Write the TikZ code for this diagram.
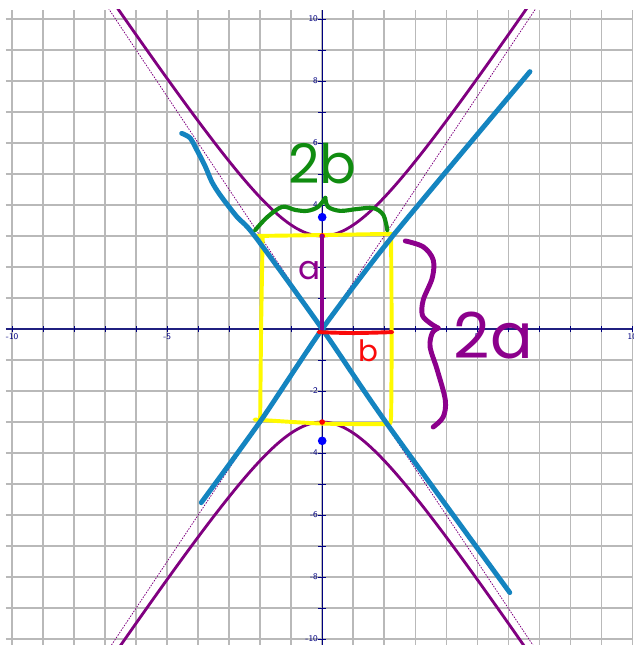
\documentclass[tikz,border=0pt]{standalone}
\usepackage{fontspec}
\newfontfamily\handfont{Poppins}
\usetikzlibrary{positioning, calc}
\usepackage{xcolor}
\definecolor{hypPurple}{RGB}{128,0,128}
\definecolor{penPurple}{RGB}{140,0,140}
\definecolor{penBlue}{RGB}{20,132,192}
\definecolor{penYellow}{RGB}{255,250,0}
\definecolor{penGreen}{RGB}{16,140,16}
\definecolor{penRed}{RGB}{250,10,10}
\definecolor{axisNavy}{RGB}{0,0,128}
\tikzset{
    % Grid & axes
    gridline/.style={gray!55, line width=1.3pt},
    axisline/.style={axisNavy, line width=0.7pt},
    xaxisline/.style={axisNavy!75!gray, line width=1.5pt},
    ticklbl/.style={font=\sffamily\fontsize{8}{8}\selectfont, text=axisNavy, inner sep=1pt},
    % Curves
    hyper/.style={hypPurple, line width=2.6pt},
    asym/.style={hypPurple, line width=0.7pt, dash pattern=on 1.4pt off 1.2pt},
    pen/.style={line width=4.2pt, line cap=round, line join=round},
    % Points
    vertexdot/.style={circle, fill=red, inner sep=0pt, minimum size=1.8mm},
    focusdot/.style={circle, fill=blue, inner sep=0pt, minimum size=2.8mm},
    % Labels
    hand/.style={font=\handfont\fontsize{#1}{#1}\selectfont, inner sep=0pt},
    hand/.default=30
}

\begin{document}
\begin{tikzpicture}

\useasboundingbox (-10.39,-10.19) rectangle (10.03,10.61);
\fill[white] (-10.39,-10.19) rectangle (10.03,10.61);

% grid and axes
\draw[gridline] (-10.2,-10.19) grid (10.03,10.3);
\draw[xaxisline] (-10.2,0) -- (10.03,0);
\draw[axisline] (0,-10.19) -- (0,10.3);
\foreach \i in {-10,...,10} {
    \draw[axisline] (\i,-0.1) -- (\i,0.1);
    \draw[axisline] (-0.12,\i) -- (0.12,\i);
}
\foreach \x [count=\k] in {-10,-5,5,10}
    \node[ticklbl, below] (xl\k) at (\x,-0.1) {\x};
\foreach \y [count=\k] in {-10,-8,-6,-4,-2,2,4,6,8,10}
    \node[ticklbl, left] (yl\k) at (-0.1,\y) {\y};

% hyperbola y^2/9 - x^2/4 = 1 with its asymptotes
\begin{scope}
    \clip (-10.2,-10.19) rectangle (10.03,10.3);
    \draw[asym] (-7.2,10.8) -- (7.2,-10.8);
    \draw[asym] (-7.2,-10.8) -- (7.2,10.8);
    \draw[hyper] plot[domain=-7.2:7.2, samples=150, smooth] (\x,{3*sqrt(1+\x*\x/4)});
    \draw[hyper] plot[domain=-7.2:7.2, samples=150, smooth] (\x,{-3*sqrt(1+\x*\x/4)});
\end{scope}

\coordinate (O) at (0,0);

% yellow box
\draw[pen, penYellow, line width=3.6pt] plot[smooth, tension=0.4] coordinates {(-2.2,3.0) (0,3.03) (2.25,3.07)};
\draw[pen, penYellow, line width=3.6pt] plot[smooth, tension=0.4] coordinates {(2.22,3.05) (2.24,0) (2.22,-2.85) (2.12,-3.05)};
\draw[pen, penYellow, line width=3.6pt] plot[smooth, tension=0.4] coordinates {(2.15,-3.07) (0,-3.05) (-2.18,-2.92)};
\draw[pen, penYellow, line width=3.6pt] plot[smooth, tension=0.4] coordinates {(-1.92,2.98) (-1.97,0) (-2.0,-2.95)};

% vertices and foci
\node[vertexdot] (v1) at (0,3) {};
\node[vertexdot] (v2) at (0,-3) {};
\node[focusdot] (f1) at (0,3.606) {};
\node[focusdot] (f2) at (0,-3.606) {};

% hand drawn asymptotes
\draw[pen, penBlue, line width=4.5pt] plot[smooth, tension=0.5] coordinates {(-4.53,6.31) (-4.26,6.16) (-4.04,5.77) (-3.77,5.24) (-3.56,4.75) (-3.29,4.32) (-2.75,3.62) (-2.16,2.98) (O) (2.05,-3.0) (6.05,-8.5)};
\draw[pen, penBlue, line width=4.5pt] plot[smooth, tension=0.4] coordinates {(-3.9,-5.6) (-1.97,-2.94) (O) (2.3,3.03) (6.7,8.3)};

% a and b
\draw[pen, penPurple, line width=3.8pt] (v1.center) -- (O);
\node[hand=30, text=penPurple] (lblA) at (-0.42,1.9) {a};
\draw[pen, penRed, line width=3.6pt] plot[smooth, tension=0.5] coordinates {(-0.12,-0.1) (1.0,-0.13) (2.26,-0.1)};
\node[hand=27, text=penRed] (lblB) at (1.48,-0.71) {b};

% brace for 2b
\coordinate (tip2b) at (0.1,4.23);
\draw[pen, penGreen, line width=3.8pt] plot[smooth, tension=0.55] coordinates {(-2.16,3.19) (-1.77,3.61) (-1.29,3.94) (-0.87,3.84) (-0.48,3.81) (-0.13,3.94) (tip2b)};
\draw[pen, penGreen, line width=3.8pt] plot[smooth, tension=0.55] coordinates {(tip2b) (0.19,3.94) (0.58,3.81) (1.13,3.87) (1.65,3.9) (1.97,3.68) (2.1,3.19)};
\node[hand=50, text=penGreen, above=0.45cm of tip2b, xshift=-0.1cm] (lbl2b) {2b};

% brace for 2a
\coordinate (tip2a) at (3.74,0.03);
\draw[pen, penPurple, line width=4.5pt] plot[smooth, tension=0.55] coordinates {(2.68,2.84) (3.26,2.65) (3.58,2.23) (3.55,1.65) (3.26,0.94) (3.23,0.45) (3.48,0.19) (tip2a)};
\draw[pen, penPurple, line width=4.5pt] plot[smooth, tension=0.55] coordinates {(tip2a) (3.55,-0.13) (3.48,-0.58) (3.71,-1.32) (3.97,-2.29) (3.9,-2.84) (3.58,-3.16)};
\node[hand=58, text=penPurple, right=0.5cm of tip2a, yshift=-0.25cm] (lbl2a) {2a};

\end{tikzpicture}
\end{document}
